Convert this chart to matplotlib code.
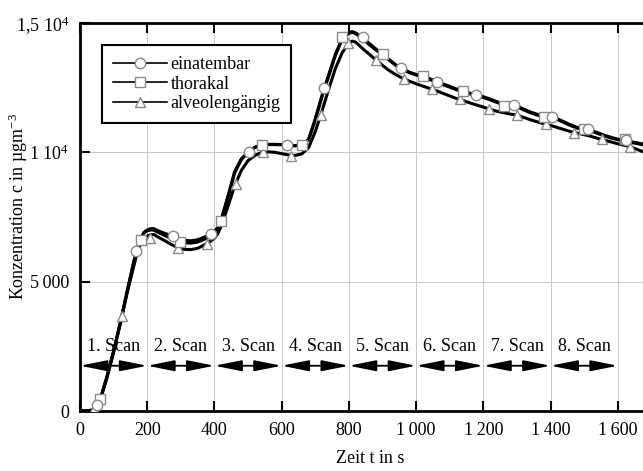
import matplotlib
matplotlib.use("Agg")
import matplotlib.pyplot as plt
from matplotlib.lines import Line2D

plt.rcParams['font.family'] = ['Liberation Serif', 'DejaVu Serif']
plt.rcParams['mathtext.fontset'] = 'custom'
plt.rcParams['mathtext.rm'] = 'Liberation Serif'
plt.rcParams['mathtext.it'] = 'Liberation Serif:italic'

# time grid of the curves (s)
t = [0, 20, 40, 60, 80, 100, 120, 140, 160, 170, 180, 190, 200, 210, 220, 230,
     250, 270, 290, 310, 330, 350, 370, 390, 400, 410, 420, 440, 460, 480, 500,
     520, 540, 560, 580, 600, 620, 640, 660, 680, 700, 720, 740, 760, 780, 800,
     810, 820, 840, 860, 880, 900, 920, 940, 960, 980, 1000, 1020, 1040, 1060,
     1080, 1100, 1120, 1140, 1160, 1180, 1200, 1220, 1240, 1260, 1280, 1300,
     1320, 1340, 1360, 1380, 1400, 1420, 1440, 1460, 1480, 1500, 1520, 1540,
     1560, 1580, 1600, 1620, 1640, 1660, 1680]

einatembar = [0, 0, 30, 420, 1300, 2300, 3400, 4600, 5750, 6250, 6650, 6900, 7000, 7050, 7050, 6980,
              6880, 6780, 6680, 6600, 6580, 6620, 6720, 6850, 6950, 7100, 7400, 8300, 9250, 9750, 10000,
              10180, 10280, 10300, 10300, 10290, 10270, 10250, 10280, 10500, 11300, 12200, 13000, 13800, 14400, 14620,
              14670, 14620, 14450, 14220, 14000, 13800, 13580, 13380, 13220, 13100, 13010, 12950, 12850, 12740,
              12640, 12550, 12450, 12360, 12290, 12220, 12150, 12060, 11960, 11870, 11830, 11790,
              11670, 11560, 11470, 11400, 11380, 11300, 11180, 11060, 10960, 10900, 10850, 10760,
              10660, 10580, 10510, 10460, 10410, 10360, 10310]

thorakal = [0, 0, 40, 450, 1320, 2320, 3420, 4620, 5780, 6280, 6650, 6880, 6970, 7000, 6990, 6920,
            6800, 6680, 6560, 6500, 6490, 6530, 6640, 6790, 6900, 7080, 7370, 8250, 9200, 9720, 10000,
            10200, 10290, 10310, 10310, 10300, 10280, 10260, 10290, 10480, 11250, 12150, 12950, 13750, 14380, 14600,
            14640, 14590, 14400, 14170, 13960, 13780, 13560, 13360, 13200, 13080, 12990, 12940, 12820, 12710,
            12610, 12520, 12420, 12340, 12260, 12190, 12120, 12030, 11930, 11840, 11800, 11760,
            11640, 11530, 11440, 11380, 11350, 11270, 11150, 11030, 10930, 10880, 10820, 10730,
            10630, 10550, 10490, 10430, 10380, 10330, 10280]

alveolengaengig = [0, 0, 50, 420, 1280, 2280, 3380, 4550, 5600, 6100, 6450, 6650, 6760, 6820, 6820, 6740,
                   6600, 6450, 6320, 6250, 6240, 6290, 6420, 6580, 6680, 6850, 7150, 7900, 8700, 9300, 9680,
                   9880, 9990, 10020, 10000, 9950, 9900, 9880, 9940, 10180, 10800, 11600, 12450, 13250, 13850, 14230,
                   14300, 14260, 14020, 13800, 13580, 13360, 13160, 13000, 12860, 12750, 12650, 12560, 12470, 12380,
                   12280, 12180, 12080, 12000, 11910, 11830, 11750, 11660, 11590, 11530, 11480, 11440,
                   11350, 11260, 11180, 11100, 11040, 10960, 10880, 10800, 10740, 10680, 10620, 10540,
                   10470, 10400, 10330, 10270, 10200, 10100, 10000]

# marker positions
t_circ = [52, 168, 277, 389, 502, 616, 726, 841, 955, 1063, 1177, 1292, 1405, 1512, 1625]
c_circ = [250, 6202, 6783, 6848, 10012, 10283, 12469, 14469, 13244, 12725, 12221, 11834, 11383, 10891, 10480]
t_sq = [59, 180, 299, 420, 540, 660, 780, 900, 1020, 1140, 1261, 1380, 1500, 1621]
c_sq = [453, 6628, 6523, 7364, 10283, 10283, 14446, 13798, 12957, 12353, 11795, 11383, 10891, 10504]
t_tri = [42, 125, 207, 292, 377, 463, 545, 629, 716, 798, 880, 965, 1048, 1130, 1217, 1301, 1385, 1470, 1552, 1636]
c_tri = [66, 3655, 6693, 6305, 6470, 8787, 10012, 9857, 11446, 14225, 13578, 12829, 12442, 12054, 11667, 11446,
         11085, 10763, 10504, 10221]

scan_labels = ["1. Scan", "2. Scan", "3. Scan", "4. Scan", "5. Scan", "6. Scan", "7. Scan", "8. Scan"]
scan_starts = [0, 200, 400, 600, 800, 1000, 1200, 1400]

x_ticks = [0, 200, 400, 600, 800, 1000, 1200, 1400, 1600]
x_ticklabels = ["0", "200", "400", "600", "800", "1\u2009000", "1\u2009200", "1\u2009400", "1\u2009600"]
y_ticks = [0, 5000, 10000, 15000]
y_ticklabels = ["0", "5\u2009000", r"1 10$^{4}$", r"1,5 10$^{4}$"]

fig = plt.figure(figsize=(6.43, 4.71), dpi=100)
ax = fig.add_axes([80 / 643, 1 - 411 / 471, 1 - 80 / 643, (411 - 23) / 471])

ax.plot(t, alveolengaengig, color="black", lw=2.2, zorder=3)
ax.plot(t, thorakal, color="black", lw=2.2, zorder=3)
ax.plot(t, einatembar, color="black", lw=2.2, zorder=3)

mk = dict(linestyle="none", markersize=7.5, markerfacecolor="white",
          markeredgecolor="#8a8a8a", markeredgewidth=1.0, zorder=4)
ax.plot(t_tri, c_tri, marker="^", **mk)
ax.plot(t_sq, c_sq, marker="s", **mk)
ax.plot(t_circ, c_circ, marker="o", **mk)

# scan arrows
for start, lab in zip(scan_starts, scan_labels):
    ax.annotate("", xy=(start + 200, 1750), xytext=(start, 1750),
                arrowprops=dict(arrowstyle="<|-|>,head_length=1.65,head_width=0.33",
                                color="black", lw=1.3, shrinkA=0, shrinkB=0,
                                mutation_scale=10), zorder=5)
    ax.text(start + 100, 2500, lab, ha="center", va="center", fontsize=13, zorder=5)

ax.set_xlim(0, 1675)
ax.set_ylim(0, 15000)
ax.set_xticks(x_ticks)
ax.set_xticklabels(x_ticklabels, fontsize=13)
ax.set_yticks(y_ticks)
ax.set_yticklabels(y_ticklabels, fontsize=13)
ax.tick_params(direction="in", length=7, width=1.5, top=True, right=False, pad=8)

ax.grid(True, color="#c8c8c8", lw=0.7)
ax.set_axisbelow(True)
for s in ["left", "bottom", "top"]:
    ax.spines[s].set_linewidth(2)
ax.spines["right"].set_visible(False)

ax.set_xlabel("Zeit t in s", fontsize=13)
ax.xaxis.set_label_coords((370 - 80) / 563, -0.1)
ax.set_ylabel(r"Konzentration c in µgm$^{-3}$", fontsize=13)
ax.yaxis.set_label_coords(-0.089, 0.528)

handles = [
    Line2D([], [], color="black", lw=1.2, marker="o", markersize=7.5, markerfacecolor="white",
           markeredgecolor="#8a8a8a"),
    Line2D([], [], color="black", lw=1.2, marker="s", markersize=7.5, markerfacecolor="white",
           markeredgecolor="#8a8a8a"),
    Line2D([], [], color="black", lw=1.2, marker="^", markersize=7.5, markerfacecolor="white",
           markeredgecolor="#8a8a8a"),
]
leg = ax.legend(handles, ["einatembar", "thorakal", "alveolengängig"], loc="upper left",
                bbox_to_anchor=(0.039, 0.943), fontsize=13, fancybox=False, framealpha=1,
                edgecolor="black", handlelength=3.0, handletextpad=0.2, labelspacing=0.15,
                borderpad=0.6, borderaxespad=0)
leg.get_frame().set_linewidth(1.5)

fig.savefig("out.png", dpi=100)
